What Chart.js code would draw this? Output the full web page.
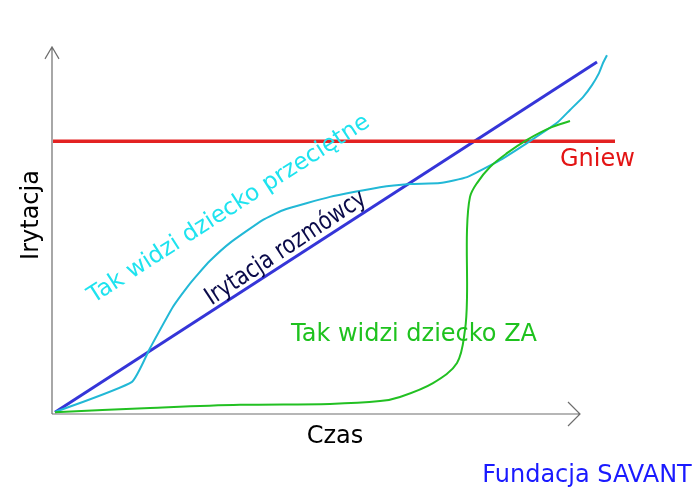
<!DOCTYPE html>
<html>
<head>
<meta charset="utf-8">
<script src="https://cdn.jsdelivr.net/npm/chart.js@4.4.1/dist/chart.umd.min.js"></script>
<style>
html,body{margin:0;padding:0;background:#fff;}
#wrap{width:700px;height:497px;position:relative;}
</style>
</head>
<body>
<div id="wrap"><canvas id="c" width="700" height="497"></canvas></div>
<script>
// ---- data (abstract units: x = czas, y = irytacja) ----
const gniewX = [0.2, 112.6];
const gniewY = [59.3, 59.3];

const rozmowcaX = [0.6, 109.0];
const rozmowcaY = [0.4, 76.5];

const przecietneX = [0.6, 16.0, 19.6, 24.2, 27.2, 29.2, 31.6, 35.6, 42.2, 46.2, 55.6, 65.6, 71.6, 77.6, 83.0, 89.6, 95.0, 101.0, 103.6, 106.2, 108.0, 109.4, 110.2, 111.0];
const przecietneY = [0.4, 7.0, 14.3, 23.3, 27.8, 30.4, 33.3, 37.2, 42.2, 44.3, 47.2, 49.3, 50.0, 50.2, 51.5, 55.2, 58.9, 63.3, 66.1, 68.9, 71.5, 74.1, 76.3, 78.0];

const zaX = [0.6, 19.6, 37.6, 55.6, 65.6, 69.6, 76.2, 81.0, 82.6, 83.0, 83.0, 83.6, 85.0, 87.6, 91.0, 95.0, 99.6, 103.6];
const zaY = [0.4, 1.3, 2.0, 2.2, 2.8, 3.7, 6.7, 11.1, 18.3, 25.4, 40.0, 47.2, 50.2, 53.7, 56.7, 59.6, 62.2, 63.7];

const labelTexts = ["Tak widzi dziecko przeciętne", "Irytacja rozmówcy", "Gniew", "Tak widzi dziecko ZA"];
const axisTitles = ["Czas", "Irytacja"];
const creditText = "Fundacja SAVANT";

function pts(xs, ys){ return xs.map((x,i)=>({x:x, y:ys[i]})); }

const annotPlugin = {
  id: 'annot',
  afterDatasetsDraw(chart){
    const ctx = chart.ctx;
    const xs = chart.scales.x, ys = chart.scales.y;
    const px = v => xs.getPixelForValue(v);
    const py = v => ys.getPixelForValue(v);
    // axes with arrows
    ctx.save();
    ctx.strokeStyle = '#6e6e6e';
    ctx.lineWidth = 1.2;
    const x0 = px(0), y0 = py(0);
    const yTop = py(79.8), xEnd = px(105.6);
    ctx.beginPath();
    ctx.moveTo(x0, y0); ctx.lineTo(x0, yTop);
    ctx.moveTo(x0-7, yTop+12); ctx.lineTo(x0, yTop); ctx.lineTo(x0+7, yTop+12);
    ctx.moveTo(x0, y0); ctx.lineTo(xEnd, y0);
    ctx.moveTo(xEnd-12, y0-12); ctx.lineTo(xEnd, y0); ctx.lineTo(xEnd-12, y0+12);
    ctx.stroke();
    ctx.restore();

    const draw = (text, x, y, ang, font, color, align, sx) => {
      ctx.save();
      ctx.translate(x, y);
      ctx.rotate(ang*Math.PI/180);
      if (sx) ctx.scale(sx, 1);
      ctx.font = font;
      ctx.fillStyle = color;
      ctx.textAlign = align || 'center';
      ctx.textBaseline = 'middle';
      ctx.fillText(text, 0, 0);
      ctx.restore();
    };
    draw(labelTexts[0], px(35.4), py(44.5), -32.7, '23.3px "DejaVu Sans"', '#1ee3ef');
    draw(labelTexts[1], px(46.8), py(36.0), -33.5, '25px "DejaVu Sans"', '#0a0a4a', 'center', 0.82);
    draw(labelTexts[2], px(101.6), py(55.3), 0, '24px "DejaVu Sans"', '#e31414', 'left');
    draw(labelTexts[3], px(72.4), py(17.2), 0, '24px "DejaVu Sans"', '#1ec21e');
    // axis titles
    draw(axisTitles[0], 335, 437, 0, '24px "DejaVu Sans"', '#000');
    draw(axisTitles[1], 32, 215, -90, '24px "DejaVu Sans"', '#000');
    draw(creditText, 587, 476, 0, '24px "DejaVu Sans"', '#1a1aff');
  }
};

new Chart(document.getElementById('c'), {
  type: 'line',
  data: {
    datasets: [
      { data: pts(zaX, zaY), borderColor: '#22c022', borderWidth: 2, tension: 0.35, pointRadius: 0 },
      { data: pts(przecietneX, przecietneY), borderColor: '#22b8d6', borderWidth: 2, tension: 0.15, pointRadius: 0 },
      { data: pts(gniewX, gniewY), borderColor: '#e32222', borderWidth: 3.5, tension: 0, pointRadius: 0 },
      { data: pts(rozmowcaX, rozmowcaY), borderColor: '#3535d8', borderWidth: 3, tension: 0, pointRadius: 0 }
    ]
  },
  options: {
    responsive: false,
    animation: false,
    layout: { padding: { left: 52, right: 48, top: 46, bottom: 83 } },
    plugins: { legend: { display: false }, tooltip: { enabled: false } },
    elements: { line: { fill: false, borderCapStyle: 'butt' } },
    scales: {
      x: { type: 'linear', min: 0, max: 120, display: false },
      y: { type: 'linear', min: 0, max: 80, display: false }
    }
  },
  plugins: [annotPlugin]
});
</script>
</body>
</html>
